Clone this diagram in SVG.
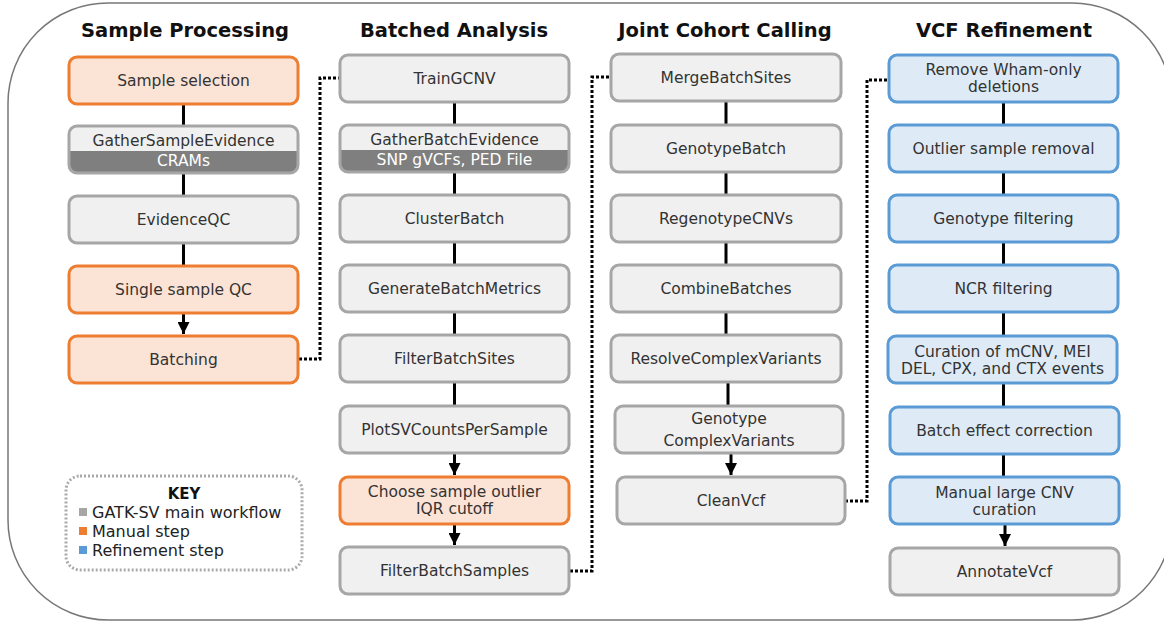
<svg xmlns="http://www.w3.org/2000/svg" width="1164" height="622" viewBox="0 0 1164 622">
<defs>
<style>
.t{font-family:"DejaVu Sans","Liberation Sans",sans-serif;font-size:15.5px;fill:#333;text-anchor:middle;dominant-baseline:central}
.w{fill:#fff}
.h{font-family:"DejaVu Sans","Liberation Sans",sans-serif;font-size:19.5px;font-weight:bold;fill:#111;text-anchor:middle}
.g{fill:#f0f0f0;stroke:#a6a6a6;stroke-width:3}
.o{fill:#fbe3d6;stroke:#ed7d31;stroke-width:3}
.b{fill:#deebf7;stroke:#5b9bd5;stroke-width:3}
.ln{stroke:#000;stroke-width:3;fill:none}
.dot{stroke:#000;stroke-width:3;fill:none;stroke-dasharray:3 2}
.k{font-family:"DejaVu Sans","Liberation Sans",sans-serif;font-size:16px;fill:#222}
</style>
<marker id="ar" viewBox="0 0 10 10" refX="10" refY="5" markerWidth="4" markerHeight="4" markerUnits="strokeWidth" orient="auto">
<path d="M0,0 L10,5 L0,10 z" fill="#000"/>
</marker>
</defs>
<rect width="1164" height="622" fill="#fff"/>
<rect x="8" y="3" width="1164" height="617" rx="100" ry="100" fill="none" stroke="#777" stroke-width="1.5"/>

<text class="h" x="185" y="37">Sample Processing</text>
<text class="h" x="454" y="37">Batched Analysis</text>
<text class="h" x="725" y="37">Joint Cohort Calling</text>
<text class="h" x="1004" y="37">VCF Refinement</text>

<g id="connectors">
<line class="ln" x1="183.5" y1="104" x2="183.5" y2="126"/>
<line class="ln" x1="183.5" y1="173" x2="183.5" y2="196"/>
<line class="ln" x1="183.5" y1="243" x2="183.5" y2="266"/>
<line class="ln" x1="183.5" y1="313" x2="183.5" y2="334" marker-end="url(#ar)"/>
<line class="ln" x1="454.5" y1="102" x2="454.5" y2="125"/>
<line class="ln" x1="454.5" y1="172" x2="454.5" y2="195"/>
<line class="ln" x1="454.5" y1="242" x2="454.5" y2="265"/>
<line class="ln" x1="454.5" y1="312" x2="454.5" y2="335"/>
<line class="ln" x1="454.5" y1="382" x2="454.5" y2="406"/>
<line class="ln" x1="454.5" y1="453" x2="454.5" y2="475" marker-end="url(#ar)"/>
<line class="ln" x1="454.5" y1="524" x2="454.5" y2="545" marker-end="url(#ar)"/>
<line class="ln" x1="726" y1="101" x2="726" y2="125"/>
<line class="ln" x1="726" y1="172" x2="726" y2="195"/>
<line class="ln" x1="726" y1="242" x2="726" y2="265"/>
<line class="ln" x1="726" y1="312" x2="726" y2="335"/>
<line class="ln" x1="728" y1="382" x2="728" y2="406"/>
<line class="ln" x1="731" y1="453" x2="731" y2="475" marker-end="url(#ar)"/>
<line class="ln" x1="1003.5" y1="102" x2="1003.5" y2="125"/>
<line class="ln" x1="1003.5" y1="172" x2="1003.5" y2="195"/>
<line class="ln" x1="1003.5" y1="242" x2="1003.5" y2="265"/>
<line class="ln" x1="1003.5" y1="312" x2="1003.5" y2="336"/>
<line class="ln" x1="1003.5" y1="383" x2="1003.5" y2="407"/>
<line class="ln" x1="1003.5" y1="454" x2="1003.5" y2="477"/>
<line class="ln" x1="1005" y1="524" x2="1005" y2="546" marker-end="url(#ar)"/>
<polyline class="dot" points="299,359 320,359 320,78 339,78"/>
<polyline class="dot" points="570,571 592,571 592,77 610,77"/>
<polyline class="dot" points="845,501 867,501 867,80 888,80"/>
</g>

<g id="sample-selection"><rect class="o" x="69" y="57" width="229" height="47" rx="8"/><text class="t" x="183.5" y="80.5">Sample selection</text></g>
<g id="gather-sample-evidence">
<rect x="69" y="126" width="229" height="47" rx="8" fill="#f0f0f0"/>
<path d="M69,151 H298 V165 A8,8 0 0 1 290,173 H77 A8,8 0 0 1 69,165 Z" fill="#7f7f7f"/>
<rect x="69" y="126" width="229" height="47" rx="8" fill="none" stroke="#a6a6a6" stroke-width="3"/>
<text class="t" x="183.5" y="141">GatherSampleEvidence</text>
<text class="t w" x="183.5" y="161">CRAMs</text>
</g>
<g id="evidence-qc"><rect class="g" x="69" y="196" width="229" height="47" rx="8"/><text class="t" x="183.5" y="219.5">EvidenceQC</text></g>
<g id="single-sample-qc"><rect class="o" x="69" y="266" width="229" height="47" rx="8"/><text class="t" x="183.5" y="289.5">Single sample QC</text></g>
<g id="batching"><rect class="o" x="69" y="336" width="229" height="47" rx="8"/><text class="t" x="183.5" y="359.5">Batching</text></g>

<g id="train-gcnv"><rect class="g" x="340" y="55" width="229" height="47" rx="8"/><text class="t" x="454.5" y="78.5">TrainGCNV</text></g>
<g id="gather-batch-evidence">
<rect x="340" y="125" width="229" height="47" rx="8" fill="#f0f0f0"/>
<path d="M340,150 H569 V164 A8,8 0 0 1 561,172 H348 A8,8 0 0 1 340,164 Z" fill="#7f7f7f"/>
<rect x="340" y="125" width="229" height="47" rx="8" fill="none" stroke="#a6a6a6" stroke-width="3"/>
<text class="t" x="454.5" y="140">GatherBatchEvidence</text>
<text class="t w" x="454.5" y="160">SNP gVCFs, PED File</text>
</g>
<g id="cluster-batch"><rect class="g" x="340" y="195" width="229" height="47" rx="8"/><text class="t" x="454.5" y="218.5">ClusterBatch</text></g>
<g id="generate-batch-metrics"><rect class="g" x="340" y="265" width="229" height="47" rx="8"/><text class="t" x="454.5" y="288.5">GenerateBatchMetrics</text></g>
<g id="filter-batch-sites"><rect class="g" x="340" y="335" width="229" height="47" rx="8"/><text class="t" x="454.5" y="358.5">FilterBatchSites</text></g>
<g id="plot-sv-counts"><rect class="g" x="340" y="406" width="229" height="47" rx="8"/><text class="t" x="454.5" y="429.5">PlotSVCountsPerSample</text></g>
<g id="choose-outlier"><rect class="o" x="340" y="477" width="229" height="47" rx="8"/><text class="t" x="454.5" y="492">Choose sample outlier</text><text class="t" x="454.5" y="509">IQR cutoff</text></g>
<g id="filter-batch-samples"><rect class="g" x="340" y="547" width="229" height="47" rx="8"/><text class="t" x="454.5" y="570.5">FilterBatchSamples</text></g>

<g id="merge-batch-sites"><rect class="g" x="611" y="54" width="230" height="47" rx="8"/><text class="t" x="726" y="77.5">MergeBatchSites</text></g>
<g id="genotype-batch"><rect class="g" x="611" y="125" width="230" height="47" rx="8"/><text class="t" x="726" y="148.5">GenotypeBatch</text></g>
<g id="regenotype-cnvs"><rect class="g" x="611" y="195" width="230" height="47" rx="8"/><text class="t" x="726" y="218.5">RegenotypeCNVs</text></g>
<g id="combine-batches"><rect class="g" x="611" y="265" width="230" height="47" rx="8"/><text class="t" x="726" y="288.5">CombineBatches</text></g>
<g id="resolve-complex"><rect class="g" x="611" y="335" width="230" height="47" rx="8"/><text class="t" x="726" y="358.5">ResolveComplexVariants</text></g>
<g id="genotype-complex"><rect class="g" x="615" y="406" width="228" height="47" rx="8"/><text class="t" x="729" y="419">Genotype</text><text class="t" x="729" y="441">ComplexVariants</text></g>
<g id="clean-vcf"><rect class="g" x="617" y="477" width="228" height="47" rx="8"/><text class="t" x="731" y="500.5">CleanVcf</text></g>

<g id="remove-wham"><rect class="b" x="889" y="55" width="229" height="47" rx="8"/><text class="t" x="1003.5" y="70">Remove Wham-only</text><text class="t" x="1003.5" y="87">deletions</text></g>
<g id="outlier-removal"><rect class="b" x="889" y="125" width="229" height="47" rx="8"/><text class="t" x="1003.5" y="148.5">Outlier sample removal</text></g>
<g id="genotype-filtering"><rect class="b" x="889" y="195" width="229" height="47" rx="8"/><text class="t" x="1003.5" y="218.5">Genotype filtering</text></g>
<g id="ncr-filtering"><rect class="b" x="889" y="265" width="229" height="47" rx="8"/><text class="t" x="1003.5" y="288.5">NCR filtering</text></g>
<g id="curation"><rect class="b" x="888" y="336" width="229" height="47" rx="8"/><text class="t" x="1002.5" y="352">Curation of mCNV, MEI</text><text class="t" x="1002.5" y="369">DEL, CPX, and CTX events</text></g>
<g id="batch-effect"><rect class="b" x="890" y="407" width="229" height="47" rx="8"/><text class="t" x="1004.5" y="430.5">Batch effect correction</text></g>
<g id="manual-cnv"><rect class="b" x="890" y="477" width="229" height="47" rx="8"/><text class="t" x="1004.5" y="493">Manual large CNV</text><text class="t" x="1004.5" y="510">curation</text></g>
<g id="annotate-vcf"><rect class="g" x="890" y="548" width="229" height="47" rx="8"/><text class="t" x="1004.5" y="571.5">AnnotateVcf</text></g>

<g id="key">
<rect x="66" y="476" width="236" height="94" rx="14" fill="none" stroke="#aaa" stroke-width="3" stroke-dasharray="2 2"/>
<text x="184" y="499" font-family="DejaVu Sans, Liberation Sans, sans-serif" font-size="15" font-weight="bold" fill="#111" text-anchor="middle">KEY</text>
<rect x="79" y="508" width="8" height="8" fill="#a6a6a6"/>
<text class="k" x="92" y="518">GATK-SV main workflow</text>
<rect x="79" y="527" width="8" height="8" fill="#ed7d31"/>
<text class="k" x="92" y="537">Manual step</text>
<rect x="79" y="546" width="8" height="8" fill="#5b9bd5"/>
<text class="k" x="92" y="556">Refinement step</text>
</g>
</svg>
